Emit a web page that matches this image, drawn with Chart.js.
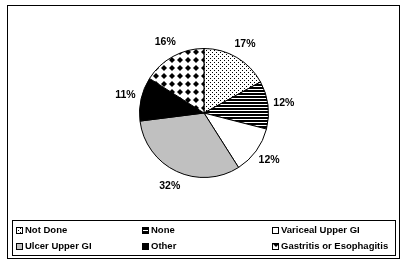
<!DOCTYPE html>
<html>
<head>
<meta charset="utf-8">
<script src="https://cdn.jsdelivr.net/npm/chart.js@4"></script>
<style>
  html, body { margin: 0; padding: 0; background: #fff; }
  #wrap { width: 407px; height: 265px; position: relative; }
</style>
</head>
<body>
<div id="wrap"><canvas id="chart"></canvas></div>
<script>
const categories = ['Not Done', 'None', 'Variceal Upper GI', 'Ulcer Upper GI', 'Other', 'Gastritis or Esophagitis'];
const percentages = [17, 12, 12, 32, 11, 16];
const fillKinds = ['dots', 'hlines', 'white', 'gray', 'black', 'diamonds'];

// small tiled patterns like the old excel fills
function makePattern(kind) {
  const c = document.createElement('canvas');
  const g = c.getContext('2d');
  if (kind === 'dots') {
    c.width = 4; c.height = 4;
    g.fillStyle = '#fff'; g.fillRect(0, 0, 4, 4);
    g.fillStyle = '#000';
    g.fillRect(0, 0, 1, 1);
    g.fillRect(2, 2, 1, 1);
  } else if (kind === 'hlines') {
    c.width = 4; c.height = 3;
    g.fillStyle = '#fff'; g.fillRect(0, 0, 4, 3);
    g.fillStyle = '#000'; g.fillRect(0, 0, 4, 2);
  } else if (kind === 'diamonds') {
    c.width = 8; c.height = 8;
    g.fillStyle = '#fff'; g.fillRect(0, 0, 8, 8);
    g.fillStyle = '#000';
    g.beginPath();
    g.moveTo(4, 1); g.lineTo(7, 4); g.lineTo(4, 7); g.lineTo(1, 4);
    g.closePath(); g.fill();
  } else {
    return kind === 'gray' ? '#c0c0c0' : kind === 'black' ? '#000' : '#fff';
  }
  return document.createElement('canvas').getContext('2d').createPattern(c, 'repeat');
}

const fills = fillKinds.map(makePattern);

const framePlugin = {
  id: 'frame',
  beforeDraw(chart) {
    const ctx = chart.ctx;
    ctx.save();
    ctx.fillStyle = '#fff';
    ctx.fillRect(0, 0, chart.width, chart.height);
    ctx.strokeStyle = '#000';
    ctx.lineWidth = 1;
    ctx.strokeRect(7.5, 5.5, 392, 253);
    ctx.restore();
  }
};

const pctLabels = {
  id: 'pctLabels',
  afterDatasetsDraw(chart) {
    const ctx = chart.ctx;
    const meta = chart.getDatasetMeta(0);
    ctx.save();
    ctx.font = 'bold 10.5px "Liberation Sans", Arial, sans-serif';
    ctx.fillStyle = '#000';
    ctx.textAlign = 'center';
    ctx.textBaseline = 'middle';
    meta.data.forEach((arc, i) => {
      const mid = (arc.startAngle + arc.endAngle) / 2;
      const r = arc.outerRadius + 16;
      ctx.fillText(percentages[i] + '%', arc.x + Math.cos(mid) * r, arc.y + Math.sin(mid) * r);
    });
    ctx.restore();
  }
};

const boxLegend = {
  id: 'boxLegend',
  afterDraw(chart) {
    const ctx = chart.ctx;
    ctx.save();
    ctx.strokeStyle = '#000';
    ctx.lineWidth = 1;
    ctx.strokeRect(12.5, 220.5, 383, 35);
    ctx.font = 'bold 9.5px "Liberation Sans", Arial, sans-serif';
    ctx.textBaseline = 'middle';
    const cols = [16, 142, 272];
    const rows = [230, 246];
    chart.data.labels.forEach((lab, i) => {
      const x = cols[i % 3];
      const y = rows[Math.floor(i / 3)];
      ctx.fillStyle = chart.data.datasets[0].backgroundColor[i];
      ctx.fillRect(x, y - 3, 6, 6);
      ctx.strokeRect(x + 0.5, y - 2.5, 6, 6);
      ctx.fillStyle = '#000';
      ctx.fillText(lab, x + 9, y);
    });
    ctx.restore();
  }
};

new Chart(document.getElementById('chart'), {
  type: 'pie',
  data: {
    labels: categories,
    datasets: [{
      data: percentages,
      backgroundColor: fills,
      borderColor: '#000',
      borderWidth: 1
    }]
  },
  options: {
    responsive: true,
    maintainAspectRatio: false,
    animation: false,
    layout: { padding: { top: 48, bottom: 87, left: 139, right: 138 } },
    plugins: {
      legend: { display: false },
      tooltip: { enabled: false }
    }
  },
  plugins: [framePlugin, pctLabels, boxLegend]
});
</script>
</body>
</html>
